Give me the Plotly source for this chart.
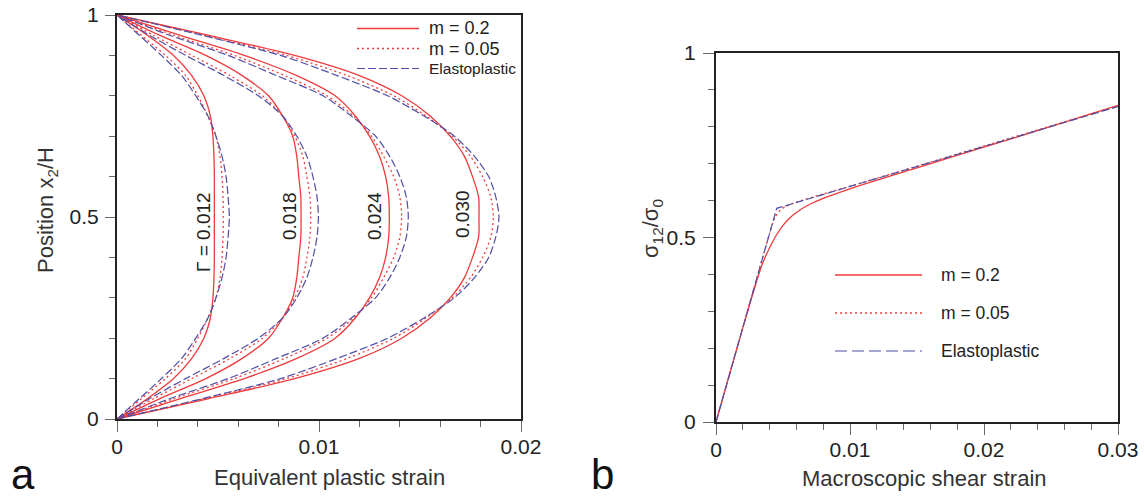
import plotly.graph_objects as go

W, H = 1145, 497

# ---------------- data: panel a ----------------
position = [0.0, 0.05, 0.1, 0.15, 0.2, 0.25, 0.3, 0.35, 0.4, 0.45, 0.5,
            0.55, 0.6, 0.65, 0.7, 0.75, 0.8, 0.85, 0.9, 0.95, 1.0]

g012_m02 = [0, 0.0015, 0.0028, 0.0037, 0.0043, 0.00462, 0.00475, 0.0048, 0.00482, 0.00482, 0.00482,
            0.00482, 0.00482, 0.0048, 0.00475, 0.00462, 0.0043, 0.0037, 0.0028, 0.0015, 0]
g012_m005 = [0, 0.0012, 0.0024, 0.0034, 0.0040, 0.0045, 0.0049, 0.0051, 0.0052, 0.00525, 0.00526,
             0.00525, 0.0052, 0.0051, 0.0049, 0.0045, 0.0040, 0.0034, 0.0024, 0.0012, 0]
g012_ep = [0, 0.0011, 0.0022, 0.0032, 0.0039, 0.0045, 0.0049, 0.0052, 0.0054, 0.0055, 0.00556,
           0.0055, 0.0054, 0.0052, 0.0049, 0.0045, 0.0039, 0.0032, 0.0022, 0.0011, 0]

g018_m02 = [0, 0.0021, 0.0044, 0.0062, 0.0075, 0.0082, 0.0087, 0.0089, 0.0090, 0.0091, 0.00911,
            0.0091, 0.0090, 0.0089, 0.0087, 0.0082, 0.0075, 0.0062, 0.0044, 0.0021, 0]
g018_m005 = [0, 0.0018, 0.0037, 0.0056, 0.0072, 0.0082, 0.0088, 0.0092, 0.0094, 0.00955, 0.00959,
             0.00955, 0.0094, 0.0092, 0.0088, 0.0082, 0.0072, 0.0056, 0.0037, 0.0018, 0]
g018_ep = [0, 0.0016, 0.0034, 0.0053, 0.0070, 0.0082, 0.0089, 0.0094, 0.0097, 0.0099, 0.00997,
           0.0099, 0.0097, 0.0094, 0.0089, 0.0082, 0.0070, 0.0053, 0.0034, 0.0016, 0]

g024_m02 = [0, 0.0031, 0.0063, 0.0089, 0.0108, 0.0118, 0.0125, 0.0130, 0.0133, 0.01345, 0.01348,
            0.01345, 0.0133, 0.0130, 0.0125, 0.0118, 0.0108, 0.0089, 0.0063, 0.0031, 0]
g024_m005 = [0, 0.0028, 0.0058, 0.0083, 0.0104, 0.0117, 0.0126, 0.0132, 0.0137, 0.0140, 0.01409,
             0.0140, 0.0137, 0.0132, 0.0126, 0.0117, 0.0104, 0.0083, 0.0058, 0.0028, 0]
g024_ep = [0, 0.0026, 0.0055, 0.0079, 0.0102, 0.0116, 0.0128, 0.0135, 0.0140, 0.01432, 0.01442,
           0.01432, 0.0140, 0.0135, 0.0128, 0.0116, 0.0102, 0.0079, 0.0055, 0.0026, 0]

g030_m02 = [0, 0.0045, 0.0088, 0.0120, 0.0141, 0.0155, 0.0165, 0.0172, 0.0176, 0.0179, 0.01792,
            0.0179, 0.0176, 0.0172, 0.0165, 0.0155, 0.0141, 0.0120, 0.0088, 0.0045, 0]
g030_m005 = [0, 0.0043, 0.0084, 0.0114, 0.0137, 0.0153, 0.0166, 0.0175, 0.0181, 0.0185, 0.01863,
             0.0185, 0.0181, 0.0175, 0.0166, 0.0153, 0.0137, 0.0114, 0.0084, 0.0043, 0]
g030_ep = [0, 0.0042, 0.0081, 0.0109, 0.0134, 0.0152, 0.0167, 0.0177, 0.0184, 0.01875, 0.01891,
           0.01875, 0.0184, 0.0177, 0.0167, 0.0152, 0.0134, 0.0109, 0.0081, 0.0042, 0]

gamma_labels = ["\u0393 = 0.012", "0.018", "0.024", "0.030"]

# ---------------- data: panel b ----------------
shear_m02 = [0, 0.001, 0.002, 0.003, 0.0035, 0.004, 0.0045, 0.005, 0.0055, 0.006, 0.007, 0.008,
             0.01, 0.015, 0.02, 0.025, 0.03]
stress_m02 = [0, 0.128, 0.255, 0.378, 0.432, 0.472, 0.506, 0.533, 0.553, 0.568, 0.590, 0.606,
              0.632, 0.689, 0.745, 0.801, 0.858]
shear_m005 = [0, 0.002, 0.004, 0.0044, 0.0048, 0.0052, 0.006, 0.008, 0.01, 0.02, 0.03]
stress_m005 = [0, 0.256, 0.511, 0.555, 0.574, 0.584, 0.596, 0.618, 0.639, 0.748, 0.857]
shear_ep = [0, 0.00453, 0.03]
stress_ep = [0, 0.579, 0.855]

legend_names = ["m = 0.2", "m = 0.05", "Elastoplastic"]

xa_ticks = [0, 0.01, 0.02]
xa_text = ["0", "0.01", "0.02"]
xb_ticks = [0, 0.01, 0.02, 0.03]
xb_text = ["0", "0.01", "0.02", "0.03"]
y_ticks = [0, 0.5, 1]
y_text = ["0", "0.5", "1"]

# ---------------- styles ----------------
RED = "#ef3b3b"
BLUE = "#4f4fa6"
FONT = "Liberation Sans, Arial, sans-serif"
styles = [
    dict(color=RED, width=1.3, dash="solid"),
    dict(color=RED, width=1.3, dash="2px,3px"),
    dict(color=BLUE, width=1.2, dash="8px,3px"),
]

fig = go.Figure()

groups = [
    (g012_m02, g012_m005, g012_ep),
    (g018_m02, g018_m005, g018_ep),
    (g024_m02, g024_m005, g024_ep),
    (g030_m02, g030_m005, g030_ep),
]
for grp in groups:
    for series, st in zip(grp, styles):
        fig.add_trace(go.Scatter(x=series, y=position, mode="lines",
                                 line=dict(shape="spline", smoothing=0.8, **st),
                                 showlegend=False, xaxis="x", yaxis="y", hoverinfo="skip"))

for xs, ys, st in zip([shear_m02, shear_m005, shear_ep],
                      [stress_m02, stress_m005, stress_ep], styles):
    fig.add_trace(go.Scatter(x=xs, y=ys, mode="lines",
                             line=dict(shape="spline" if len(xs) > 3 else "linear", smoothing=0.6, **st),
                             showlegend=False, xaxis="x2", yaxis="y2", hoverinfo="skip"))


def px(x):
    return x / W


def py(y):
    return 1 - y / H


AX_LINE = "#222222"
TICK_C = "#6a6a6a"
tickfont = dict(family=FONT, size=21, color="#222222")


def axis(domain, rng, tv, tt, anchor, minor_dt, standoff, ticklen):
    return dict(domain=domain, range=rng, anchor=anchor, tickmode="array", tickvals=tv, ticktext=tt,
                showline=True, mirror=True, linecolor=AX_LINE, linewidth=2, automargin=False,
                ticks="outside", ticklen=ticklen, tickwidth=1, tickcolor=TICK_C,
                minor=dict(tickmode="linear", tick0=0, dtick=minor_dt, ticks="outside",
                           ticklen=6, tickwidth=1, tickcolor=TICK_C),
                showgrid=False, zeroline=False, tickfont=tickfont, ticklabelstandoff=standoff)


fig.update_layout(
    template="none",
    width=W, height=H, margin=dict(l=0, r=0, t=0, b=0, autoexpand=False),
    paper_bgcolor="white", plot_bgcolor="white", showlegend=False,
    xaxis=axis([117 / W, 521 / W], [0, 0.02], xa_ticks, xa_text, "y", 0.002, -3, 11),
    yaxis=axis([1 - 419 / H, 1 - 15 / H], [0, 1], y_ticks, y_text, "x", 0.1, 2, 10),
    xaxis2=axis([716 / W, 1118 / W], [0, 0.03], xb_ticks, xb_text, "y2", 0.002, -3, 11),
    yaxis2=axis([1 - 422 / H, 1 - 53 / H], [0, 1], y_ticks, y_text, "x2", 0.1, 3, 11),
)


def note(x, y, text, size, color="#222", angle=0, xanchor="center"):
    return dict(x=px(x), y=py(y), xref="paper", yref="paper", text=text, textangle=angle,
                xanchor=xanchor, yanchor="middle", showarrow=False,
                font=dict(family=FONT, size=size, color=color))


ann = []
# rotated Gamma labels (panel a)
for lab, (cx, cy) in zip(gamma_labels, [(204, 232), (290, 216), (375, 216), (463, 214)]):
    ann.append(note(cx, cy, lab, 19, angle=-90))

# axis titles
ann.append(note(329, 477, "Equivalent plastic strain", 22, "#333"))
ann.append(note(924, 478, "Macroscopic shear strain", 22, "#333"))
ann.append(note(47, 210, "Position x<sub>2</sub>/H", 22, "#333", angle=-90))
ann.append(note(652, 229, "\u03c3<sub>12</sub>/\u03c3<sub>0</sub>", 22, "#333", angle=-90))
# panel letters
ann.append(note(9, 474, "a", 42, "#111", xanchor="left"))
ann.append(note(589, 474, "b", 42, "#111", xanchor="left"))

shapes = []
# legend panel a
for i, (name, st) in enumerate(zip(legend_names, styles)):
    yy = 28.5 + 20 * i
    shapes.append(dict(type="line", xref="paper", yref="paper", x0=px(357), x1=px(419),
                       y0=py(yy), y1=py(yy), line=st))
    ann.append(note(427, yy, name, 18 if i < 2 else 15.5, xanchor="left"))
# legend panel b
for i, (name, st) in enumerate(zip(legend_names, styles)):
    yy = 275 + 38 * i
    lst = dict(st)
    if i == 2:
        lst["dash"] = "12px,5px"
    shapes.append(dict(type="line", xref="paper", yref="paper", x0=px(835), x1=px(922),
                       y0=py(yy), y1=py(yy), line=lst))
    ann.append(note(939, yy, name, 17.5, xanchor="left"))

fig.update_layout(annotations=ann, shapes=shapes)
fig.write_html("out.html", config={"displayModeBar": False},
               post_script="document.body.style.margin='0px';document.body.style.overflow='hidden';")
